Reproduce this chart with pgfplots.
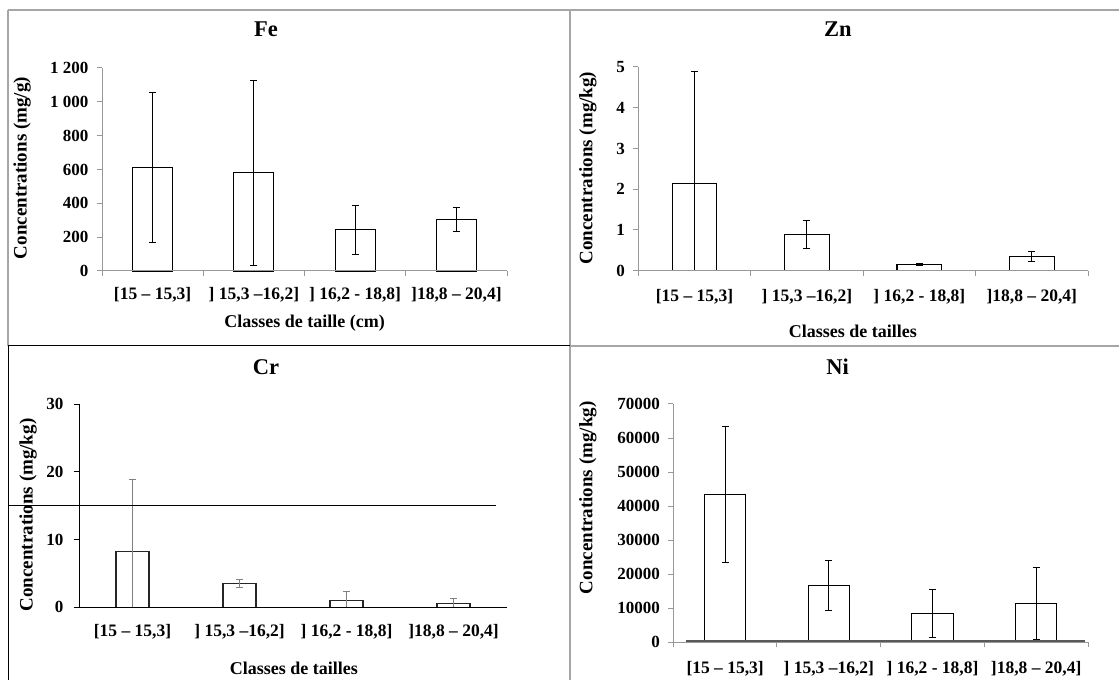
\documentclass[border=0pt]{standalone}
\usepackage{pgfplots}
\pgfplotsset{compat=1.18}
\usepackage{fontspec}
\setmainfont{Liberation Serif}

\definecolor{axgray}{HTML}{989898}
\definecolor{framegray}{HTML}{A6A6A6}
\definecolor{errgray}{HTML}{808080}
\definecolor{basegray}{HTML}{595959}

\pgfplotsset{
  panel/.style={
    scale only axis,
    anchor=south west,
    axis on top,
    axis x line=bottom,
    axis y line=left,
    axis line style={-, draw=axgray, line width=1pt},
    ymin=0, xmin=-0.5, xmax=3.5,
    xtick={-0.5,0.5,1.5,2.5,3.5},
    x tick label as interval=true,
    xticklabels={{[15 – 15,3]},{] 15,3 –16,2]},{] 16,2 - 18,8]},{]18,8 – 20,4]}},
    tick align=outside,
    major tick length=5pt,
    tick style={draw=axgray, line width=1pt},
    scaled y ticks=false,
    tick label style={font=\fontsize{17}{19}\selectfont\bfseries},
    yticklabel style={xshift=-5pt},
    xticklabel style={font=\fontsize{17.5}{19}\selectfont\bfseries},
    title style={anchor=center, yshift=0pt, font=\fontsize{22.5}{24}\selectfont\bfseries},
    ylabel style={anchor=center, font=\fontsize{19}{21}\selectfont\bfseries},
    xlabel style={anchor=center, font=\fontsize{18}{20}\selectfont\bfseries},
    ybar,
    clip=false,
  },
  bars/.style={
    draw=black, fill=white, line width=1.1pt,
    error bars/y dir=both,
    error bars/y explicit,
    error bars/error bar style={black, line width=1pt},
    error bars/error mark options={rotate=90, mark size=3.5pt, line width=1pt, black},
  },
}

\begin{document}
\begin{tikzpicture}
\useasboundingbox (0,0) rectangle (1119pt,680pt);

% panel frames
\draw[framegray, line width=1.3pt] (8pt,670pt) -- (1119pt,670pt);
\draw[framegray, line width=1.3pt] (8pt,670pt) -- (8pt,334pt);
\draw[framegray, line width=1.3pt] (570pt,670pt) -- (570pt,0pt);
\draw[framegray, line width=1.3pt] (570pt,334pt) -- (1119pt,334pt);
\draw[black, line width=1pt] (8pt,334pt) -- (570pt,334pt);
\draw[black, line width=1pt] (8pt,334pt) -- (8pt,0pt);

% Fe
\begin{axis}[panel, at={(102pt,409pt)}, width=405pt, height=203pt,
  ymax=1200, ytick={0,200,...,1200},
  yticklabels={0,200,400,600,800,1 000,1 200},
  xticklabel style={yshift=-8pt},
  bar width=40pt,
  title={Fe}, title style={at={(0.405,1.163)}},
  ylabel={Concentrations (mg/g)}, ylabel style={at={(-0.1975,0.507)}},
  xlabel={Classes de taille (cm)}, xlabel style={at={(0.5005,-0.258)}}]
\addplot[bars] coordinates {
  (0,610) +- (0,443)
  (1,580) +- (0,547)
  (2,244) +- (0,146)
  (3,307) +- (0,71)
};
\end{axis}

% Zn
\begin{axis}[panel, at={(638.3pt,409.3pt)}, width=449.7pt, height=203.7pt,
  ymax=5, ytick={0,1,...,5},
  yticklabels={0,1,2,3,4,5},
  xticklabel style={yshift=-10pt},
  bar width=44.7pt,
  title={Zn}, title style={at={(0.444,1.157)}},
  ylabel={Concentrations (mg/kg)}, ylabel style={at={(-0.112,0.504)}},
  xlabel={Classes de tailles}, xlabel style={at={(0.477,-0.2995)}}]
\addplot[bars] coordinates {
  (0,2.15) += (0,2.75) -= (0,2.15)
  (1,0.89) +- (0,0.35)
  (2,0.15) +- (0,0.025)
  (3,0.35) +- (0,0.13)
};
\end{axis}

% Cr
\begin{axis}[panel, at={(79pt,72.7pt)}, width=428pt, height=203pt,
  axis line style={-, draw=black, line width=1pt},
  ytick style={draw=black, line width=1pt},
  xtick style={draw=none},
  yticklabel style={xshift=-2pt},
  xticklabel style={yshift=-9pt},
  ymax=30, ytick={0,10,20,30},
  yticklabels={0,10,20,30},
  bar width=33pt,
  title={Cr}, title style={at={(0.437,1.154)}},
  ylabel={Concentrations (mg/kg)}, ylabel style={at={(-0.119,0.455)}},
  xlabel={Classes de tailles}, xlabel style={at={(0.502,-0.300)}}]
\addplot[bars, draw=black!85,
  error bars/error bar style={errgray, line width=1pt},
  error bars/error mark options={rotate=90, mark size=3.5pt, line width=1pt, errgray}] coordinates {
  (0,8.3) += (0,10.65) -= (0,8.3)
  (1,3.5) +- (0,0.55)
  (2,1.0) += (0,1.4) -= (0,1.0)
  (3,0.6) += (0,0.67) -= (0,0.6)
};
% reference level
\addplot[sharp plot, black, line width=1pt, mark=none] coordinates {(-1.163,15.1) (3.397,15.1)};
\end{axis}

% Ni
\begin{axis}[panel, at={(673.3pt,37.7pt)}, width=414.7pt, height=238.3pt,
  ymax=70000, ytick={0,10000,...,70000},
  yticklabels={0,10000,20000,30000,40000,50000,60000,70000},
  xticklabel style={yshift=-11pt},
  bar width=41.3pt,
  title={Ni}, title style={at={(0.396,1.130)}},
  ylabel={Concentrations (mg/kg)}, ylabel style={at={(-0.206,0.606)}}]
\addplot[bars] coordinates {
  (0,43500) +- (0,20000)
  (1,16700) +- (0,7450)
  (2,8400) +- (0,7000)
  (3,11300) +- (0,10600)
};
\addplot[sharp plot, basegray, line width=1.3pt, mark=none] coordinates {(-0.378,350) (3.47,350)};
\end{axis}
\end{tikzpicture}
\end{document}
